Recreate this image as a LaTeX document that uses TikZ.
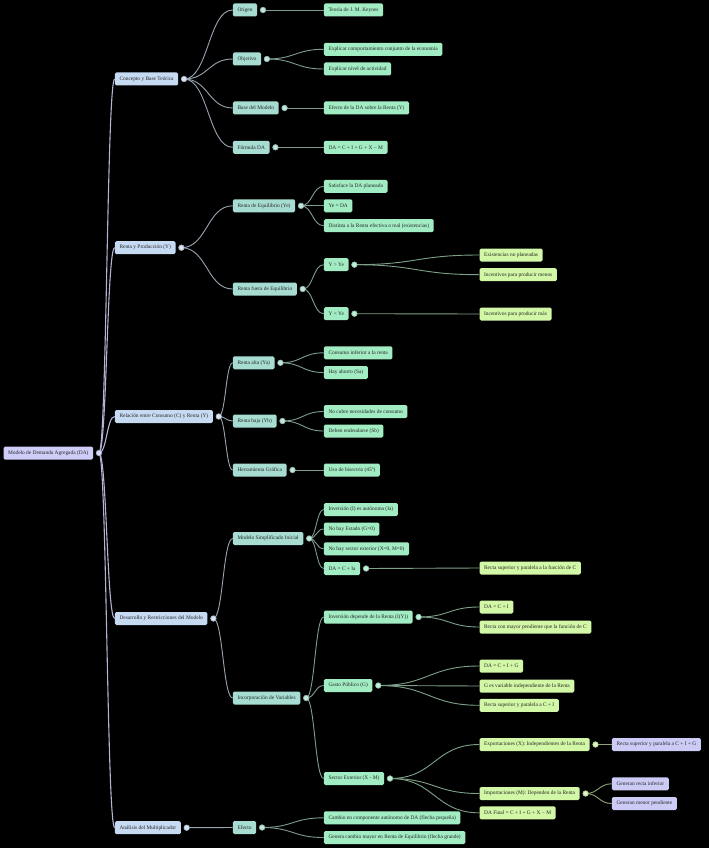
\documentclass[tikz,border=0pt]{standalone}
\usepackage{fontspec}
\usepackage{xcolor}
\usepackage{tikz}
\usetikzlibrary{positioning, calc}
\newfontfamily\mmfont{Liberation Serif}

\definecolor{rootc}{HTML}{CDCDF8}
\definecolor{lvla}{HTML}{C6DAF2}
\definecolor{lvlb}{HTML}{A6DCD2}
\definecolor{lvlc}{HTML}{A2ECC4}
\definecolor{lvld}{HTML}{D2F7A6}
\definecolor{lvle}{HTML}{CBCBF6}
\definecolor{edgea}{HTML}{B4B4D2}
\definecolor{edgeb}{HTML}{98A4B0}
\definecolor{edgec}{HTML}{7E9C90}
\definecolor{edged}{HTML}{7EA088}
\definecolor{edgee}{HTML}{90A478}

% curve from a parent dot to the west side of a child box
\newcommand\mmlink[3]{\draw[#1] let \p1=(#2), \p2=(#3.west) in
  (\p1) .. controls ({0.5*\x1+0.5*\x2},\y1) and ({0.5*\x1+0.5*\x2},\y2) .. (\p2);}

\begin{document}
\begin{tikzpicture}[x=1pt, y=-1pt, node distance=5.7pt,
    box/.style={rectangle, rounded corners=1.5pt, minimum height=13pt, inner xsep=4.6pt,
      inner ysep=0pt, anchor=west, text=black!85, font=\mmfont\fontsize{5.4}{6}\selectfont},
    rootbox/.style={box, fill=rootc},
    boxa/.style={box, fill=lvla},
    boxb/.style={box, fill=lvlb},
    boxc/.style={box, fill=lvlc},
    boxd/.style={box, fill=lvld},
    boxe/.style={box, fill=lvle},
    ea/.style={draw=edgea, line width=1.1pt},
    eb/.style={draw=edgeb, line width=0.9pt},
    ec/.style={draw=edgec, line width=0.9pt},
    ed/.style={draw=edged, line width=0.9pt},
    ee/.style={draw=edgee, line width=0.9pt},
    knob/.style={circle, inner sep=0pt, minimum size=5.5pt, line width=0.7pt}]

  \fill[black] (0,0) rectangle (709,848);
  \useasboundingbox (0,0) rectangle (709,848);

  % root
  \node[rootbox] (md) at (3.3,453) {Modelo de Demanda Agregada (DA)};

  % first level
  \node[boxa] (cbt) at (114.7,79) {Concepto y Base Teórica};
  \node[boxa] (ryp) at (114.7,247.7) {Renta y Producción (Y)};
  \node[boxa] (rcr) at (114.7,416.5) {Relación entre Consumo (C) y Renta (Y)};
  \node[boxa] (drm) at (114.7,618.5) {Desarrollo y Restricciones del Modelo};
  \node[boxa] (amu) at (114.7,827.7) {Análisis del Multiplicador};

  % second level
  \node[boxb] (ori) at (232.7,10) {Origen};
  \node[boxb] (obj) at (232.7,59) {Objetivo};
  \node[boxb] (bmo) at (232.7,108) {Base del Modelo};
  \node[boxb] (fda) at (232.7,147.3) {Fórmula DA};
  \node[boxb] (req) at (232.7,205.8) {Renta de Equilibrio (Ye)};
  \node[boxb] (rfe) at (232.7,289) {Renta fuera de Equilibrio};
  \node[boxb] (ral) at (232.7,362.8) {Renta alta (Ya)};
  \node[boxb] (rba) at (232.7,421) {Renta baja (Yb)};
  \node[boxb] (hgr) at (232.7,470) {Herramienta Gráfica};
  \node[boxb] (msi) at (232.7,538.5) {Modelo Simplificado Inicial};
  \node[boxb] (iva) at (232.7,698) {Incorporación de Variables};
  \node[boxb] (efe) at (232.7,827.5) {Efecto};

  % third level
  \node[boxc] (keynes) at (323.7,10) {Teoría de J. M. Keynes};
  \node[boxc] (expcomp) at (323.7,49.3) {Explicar comportamiento conjunto de la economía};
  \node[boxc] (expniv) at (323.7,69) {Explicar nivel de actividad};
  \node[boxc] (efda) at (323.7,108) {Efecto de la DA sobre la Renta (Y)};
  \node[boxc] (formda) at (323.7,147.3) {DA = C + I + G + X − M};
  \node[boxc] (satis) at (323.7,186.3) {Satisface la DA planeada};
  \node[boxc] (yeda) at (323.7,205.8) {Ye = DA};
  \node[boxc] (distinta) at (323.7,225.7) {Distinta a la Renta efectiva o real (existencias)};
  \node[boxc] (ymay) at (323.7,264.7) {Y > Ye};
  \node[boxc] (ymen) at (323.7,313.7) {Y < Ye};
  \node[boxc] (consinf) at (323.7,352.8) {Consumo inferior a la renta};
  \node[boxc] (ahorro) at (323.7,372.5) {Hay ahorro (Sa)};
  \node[boxc] (nocubre) at (323.7,411.5) {No cubre necesidades de consumo};
  \node[boxc] (endeud) at (323.7,431) {Deben endeudarse (Sb)};
  \node[boxc] (bisec) at (323.7,470) {Uso de bisectriz (45º)};
  \node[boxc] (invaut) at (323.7,509.5) {Inversión (I) es autónoma (Ia)};
  \node[boxc] (noest) at (323.7,529) {No hay Estado (G=0)};
  \node[boxc] (noext) at (323.7,548.8) {No hay sector exterior (X=0, M=0)};
  \node[boxc] (dacia) at (323.7,568.5) {DA = C + Ia};
  \node[boxc] (invdep) at (323.7,617) {Inversión depende de la Renta (I(Y))};
  \node[boxc] (gasto) at (323.7,685.5) {Gasto Público (G)};
  \node[boxc] (sector) at (323.7,778.5) {Sector Exterior (X - M)};
  \node[boxc] (cambio) at (323.7,817.8) {Cambio en componente autónomo de DA (flecha pequeña)};
  \node[boxc] (genera) at (323.7,837.5) {Genera cambio mayor en Renta de Equilibrio (flecha grande)};

  % fourth level
  \node[boxd] (exist) at (479.3,255) {Existencias no planeadas};
  \node[boxd] (incmenos) at (479.3,274.7) {Incentivos para producir menos};
  \node[boxd] (incmas) at (479.3,314) {Incentivos para producir más};
  \node[boxd] (rectac) at (479.3,568) {Recta superior y paralela a la función de C};
  \node[boxd] (daci) at (479.3,607) {DA = C + I};
  \node[boxd] (rectapend) at (479.3,627) {Recta con mayor pendiente que la función de C};
  \node[boxd] (dacig) at (479.3,666) {DA = C + I + G};
  \node[boxd] (gind) at (479.3,686) {G es variable independiente de la Renta};
  \node[boxd] (rectaci) at (479.3,705.3) {Recta superior y paralela a C + I};
  \node[boxd] (export) at (479.3,744.5) {Exportaciones (X): Independientes de la Renta};
  \node[boxd] (import) at (479.3,793.5) {Importaciones (M): Dependen de la Renta};
  \node[boxd] (dafinal) at (479.3,812.8) {DA Final = C + I + G + X − M};

  % fifth level
  \node[boxe] (rectacig) at (611.7,744.5) {Recta superior y paralela a C + I + G};
  \node[boxe] (geninf) at (611.7,783.8) {Generan recta inferior};
  \node[boxe] (genmenor) at (611.7,803.5) {Generan menor pendiente};

  % knob points right of the parent boxes
  \foreach \n in {md, cbt, ryp, rcr, drm, amu, ori, obj, bmo, fda, req, rfe, ral, rba, hgr,
    msi, iva, efe, ymay, ymen, dacia, invdep, gasto, sector, export, import}
    \coordinate[right=of \n] (d-\n);

  % connectors
  \foreach \b in {cbt, ryp, rcr, drm, amu} {\mmlink{ea}{d-md}{\b}}
  \foreach \a/\b in {cbt/ori, cbt/obj, cbt/bmo, cbt/fda, ryp/req, ryp/rfe, rcr/ral, rcr/rba,
    rcr/hgr, drm/msi, drm/iva, amu/efe} {\mmlink{eb}{d-\a}{\b}}
  \foreach \a/\b in {ori/keynes, obj/expcomp, obj/expniv, bmo/efda, fda/formda, req/satis,
    req/yeda, req/distinta, rfe/ymay, rfe/ymen, ral/consinf, ral/ahorro, rba/nocubre,
    rba/endeud, hgr/bisec, msi/invaut, msi/noest, msi/noext, msi/dacia, iva/invdep,
    iva/gasto, iva/sector, efe/cambio, efe/genera} {\mmlink{ec}{d-\a}{\b}}
  \foreach \a/\b in {ymay/exist, ymay/incmenos, ymen/incmas, dacia/rectac, invdep/daci,
    invdep/rectapend, gasto/dacig, gasto/gind, gasto/rectaci, sector/export,
    sector/import, sector/dafinal} {\mmlink{ed}{d-\a}{\b}}
  \foreach \a/\b in {export/rectacig, import/geninf, import/genmenor} {\mmlink{ee}{d-\a}{\b}}

  % knobs
  \node[knob, fill=rootc!70!white, draw=rootc!60!gray] at (d-md) {};
  \foreach \n in {cbt, ryp, rcr, drm, amu}
    \node[knob, fill=lvla!70!white, draw=lvla!60!gray] at (d-\n) {};
  \foreach \n in {ori, obj, bmo, fda, req, rfe, ral, rba, hgr, msi, iva, efe}
    \node[knob, fill=lvlb!70!white, draw=lvlb!60!gray] at (d-\n) {};
  \foreach \n in {ymay, ymen, dacia, invdep, gasto, sector}
    \node[knob, fill=lvlc!70!white, draw=lvlc!60!gray] at (d-\n) {};
  \foreach \n in {export, import}
    \node[knob, fill=lvld!70!white, draw=lvld!60!gray] at (d-\n) {};
\end{tikzpicture}
\end{document}
